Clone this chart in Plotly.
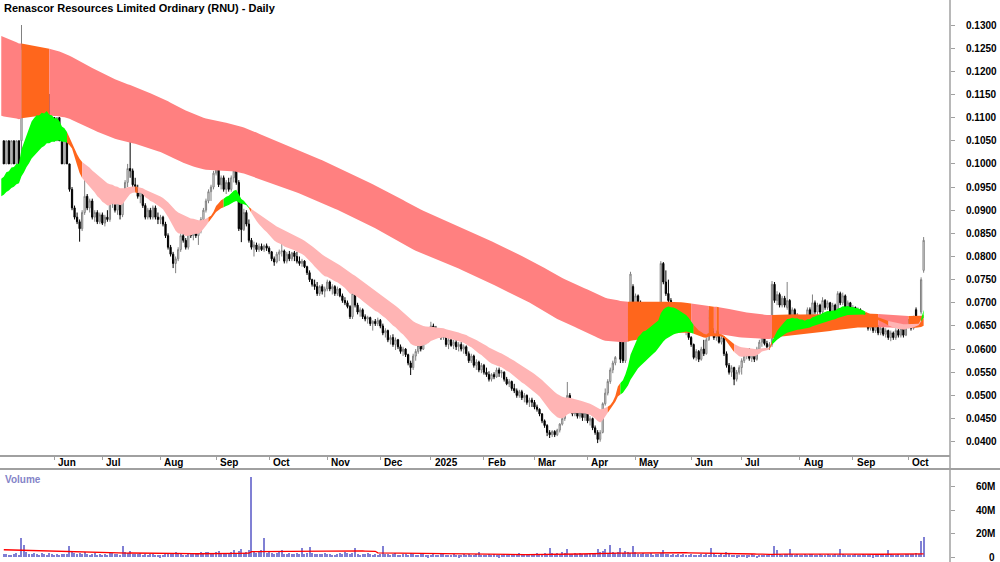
import numpy as np
import pandas as pd
import plotly.graph_objects as go

TITLE = "Renascor Resources Limited Ordinary (RNU) - Daily"
START_DATE = "2024-05-06"
HOLIDAYS = ["2024-06-10", "2024-12-25", "2024-12-26", "2025-01-01", "2025-01-27",
            "2025-04-18", "2025-04-21", "2025-04-25", "2025-06-09"]

# prices in units of 0.0001 (one bar per trading day)
OPEN = [
    1050,1000,1050,1000,1050,1000,1050,1050,1250,1150,1200,1150,1200,1150,1150,1100,1150,1100,1150,1050,
    1100,1050,1100,1050,1000,1050,1000,945,905,885,875,860,895,930,905,920,885,895,875,
    890,872,885,880,915,935,900,925,890,930,960,990,985,955,945,930,940,910,885,900,885,905,885,
    880,885,870,845,820,805,785,795,815,845,835,820,855,845,870,845,855,880,900,920,940,950,
    980,995,955,970,945,960,945,970,985,960,915,858,895,870,835,820,825,815,822,815,823,
    818,810,795,788,805,810,812,790,805,795,808,800,790,785,790,778,765,750,740,735,720,735,725,
    730,745,730,735,720,730,715,705,700,692,670,720,695,680,685,670,665,668,655,660,655,
    662,650,635,640,620,625,610,620,605,595,600,588,570,560,585,595,608,600,620,628,
    630,650,640,632,640,625,635,610,620,608,615,605,610,600,605,590,575,585,565,572,555,
    565,550,545,535,545,540,555,548,550,535,525,530,515,510,500,508,495,500,485,490,
    485,475,470,460,445,435,420,415,422,415,425,438,450,470,500,478,460,472,455,468,452,
    462,445,450,430,420,405,420,482,505,530,555,570,640,665,630,575,640,690,735,
    695,715,700,668,685,652,675,692,670,688,695,785,745,720,705,680,688,672,660,665,645,650,
    625,610,582,595,578,600,590,620,668,638,625,635,615,625,590,565,550,560,535,550,
    560,575,585,595,580,590,578,600,615,628,612,605,610,740,705,718,695,710,690,705,668,685,655,
    670,645,662,645,685,665,700,680,695,680,705,690,700,680,695,682,720,700,715,690,700,
    675,690,675,685,665,675,655,645,655,640,650,635,645,632,640,625,635,625,640,630,645,630,
    650,660,645,685,662,680,770,
]
HIGH = [
    1050,1050,1050,1050,1050,1050,1050,1300,1250,1250,1200,1200,1200,1200,1150,1150,1150,1150,1150,1100,
    1100,1100,1100,1050,1050,1050,1000,950,910,895,880,900,970,935,925,925,900,900,895,
    895,890,900,920,940,940,930,930,935,965,1000,1050,990,970,955,945,945,915,905,905,910,910,895,
    890,888,875,850,825,810,800,820,850,860,840,860,875,880,875,860,885,905,925,945,955,985,
    1050,1000,975,975,965,970,975,1050,990,965,915,903,900,880,840,832,830,828,828,826,828,
    822,812,800,810,815,846,815,810,812,810,812,810,800,795,792,780,770,752,750,745,738,740,735,
    750,748,740,738,735,732,720,712,705,695,757,725,700,690,688,675,672,670,662,665,668,
    665,655,645,642,630,632,625,622,610,605,602,590,575,590,600,612,615,625,632,635,
    659,655,650,645,642,640,638,625,625,620,620,615,615,610,608,595,590,588,578,575,570,
    568,560,552,548,550,560,560,555,552,540,535,532,525,515,512,512,505,502,495,495,
    490,480,472,462,448,438,425,425,425,428,440,455,475,529,505,485,478,475,472,470,468,
    465,455,452,435,425,425,485,515,535,560,575,585,670,668,635,640,690,767,740,
    720,718,705,690,688,680,698,695,690,700,790,788,770,750,710,692,690,680,670,668,658,655,
    628,612,600,598,605,620,625,685,680,645,640,638,630,628,595,570,565,562,555,565,
    580,590,600,602,598,600,605,620,632,635,618,615,747,745,725,722,715,715,745,708,690,688,678,
    672,668,665,690,690,718,705,700,698,712,708,705,702,700,698,725,724,722,718,705,702,
    695,692,690,688,680,678,665,660,658,655,652,648,650,645,642,640,638,645,645,650,648,655,
    665,662,672,690,670,755,842,
]
LOW = [
    1000,1000,1000,1000,1000,1000,1000,1000,1150,1150,1150,1150,1150,1100,1100,1100,1100,1100,1050,1050,
    1050,1050,1050,1000,1000,1000,940,900,880,870,832,855,890,900,895,880,875,870,870,
    868,865,875,875,905,895,890,880,885,925,950,970,950,940,925,915,905,880,880,880,880,880,870,
    870,865,840,815,800,775,764,790,810,830,815,815,840,835,840,825,850,875,895,915,920,945,
    975,950,945,940,935,940,940,960,955,855,831,855,865,830,815,800,810,810,812,810,812,
    805,790,780,785,790,800,785,785,790,790,790,785,780,778,775,760,745,735,728,715,715,718,712,
    725,725,718,715,715,712,700,695,688,665,665,690,675,670,665,660,655,650,640,650,650,
    645,630,625,615,610,605,598,600,590,585,583,565,544,555,575,590,595,598,610,615,
    625,630,628,625,620,620,605,600,605,600,598,595,595,590,585,570,570,560,555,550,548,
    545,540,530,530,535,538,540,538,530,522,518,510,505,495,495,490,485,480,475,475,
    470,465,455,440,430,412,408,410,410,412,420,435,445,465,472,455,455,450,450,445,445,
    440,435,425,415,397,400,418,478,500,525,548,565,635,570,570,570,635,688,690,
    688,690,662,660,648,648,668,665,665,680,690,740,715,700,675,670,668,655,650,640,630,620,
    605,578,575,572,575,585,588,618,630,620,618,612,610,585,560,545,540,522,530,545,
    545,570,578,575,572,572,575,595,605,608,598,598,605,700,695,690,690,690,685,665,660,650,640,
    640,640,640,640,660,660,675,672,675,675,685,685,675,675,678,680,695,695,685,680,670,
    670,670,665,660,660,650,640,640,635,635,630,630,628,625,620,617,620,620,625,625,625,628,
    645,640,642,655,655,675,765,
]
CLOSE = [
    1000,1050,1000,1050,1000,1050,1000,1250,1150,1200,1150,1200,1150,1150,1100,1150,1100,1150,1050,1100,
    1050,1100,1050,1000,1050,1000,945,905,885,875,860,895,930,905,920,885,895,875,890,
    872,885,880,915,935,900,925,890,930,960,990,985,955,945,930,940,910,885,900,885,905,885,880,
    885,870,845,820,805,785,795,815,845,835,820,855,845,870,845,855,880,900,920,940,950,980,
    995,955,970,945,960,945,970,985,960,860,858,895,870,835,820,825,815,822,815,823,818,
    810,795,788,805,810,812,790,805,795,808,800,790,785,790,778,765,750,740,735,720,735,725,730,
    745,730,735,720,730,715,705,700,692,670,720,695,680,685,670,665,668,655,660,655,662,
    650,635,640,620,625,610,620,605,595,600,588,570,560,585,595,608,600,620,628,630,
    650,640,632,640,625,635,610,620,608,615,605,610,600,605,590,575,585,565,572,555,565,
    550,545,535,545,540,555,548,550,535,525,530,515,510,500,508,495,500,485,490,485,
    475,470,460,445,435,420,415,422,415,425,438,450,470,500,478,460,472,455,468,452,462,
    445,450,430,420,405,420,482,505,530,555,570,582,665,578,575,635,685,762,695,
    715,700,668,685,652,675,692,670,688,695,785,745,720,705,680,688,672,660,665,645,650,625,
    610,582,595,578,600,590,620,668,638,625,635,615,625,590,565,550,560,535,550,560,
    575,585,595,580,590,578,600,615,628,612,605,610,740,705,718,695,710,695,705,668,685,655,670,
    645,662,645,685,665,700,680,695,680,705,690,700,680,695,682,720,700,715,690,700,675,
    690,675,685,665,675,655,645,655,640,650,635,645,632,640,625,635,625,640,630,645,630,650,
    660,645,668,660,665,750,835,
]
# volume in millions of shares
VOLUME_M = [
    2.5,3.1,2.2,1.8,2.9,3.4,2.0,16.7,10.5,4.2,3.0,2.4,3.6,2.8,2.1,3.3,2.6,1.9,3.8,2.7,
    2.2,3.0,1.8,2.6,3.2,2.4,9.6,4.1,3.5,2.8,3.9,2.5,4.4,3.1,2.2,2.9,3.4,2.0,2.6,
    1.8,2.7,2.3,3.5,4.0,2.6,3.1,2.2,9.6,4.6,3.8,5.2,3.0,2.4,2.8,3.3,2.1,2.6,1.9,2.4,3.0,2.2,1.7,
    1.6,2.1,2.8,3.2,2.5,3.9,4.3,3.5,2.7,2.2,1.8,2.6,3.1,2.4,2.9,3.4,4.6,3.8,4.9,4.1,3.3,3.6,
    4.8,5.5,3.9,3.1,2.7,3.5,4.2,6.0,3.6,5.4,7.1,3.8,4.5,6.2,68.0,4.4,3.9,5.1,6.3,16.2,3.4,
    4.1,3.6,2.9,3.3,5.0,6.2,3.1,2.7,3.5,2.4,2.9,3.8,3.0,7.7,2.6,3.4,8.5,4.0,3.2,2.5,3.1,2.8,3.6,
    2.4,3.0,2.2,1.9,2.8,3.4,2.5,4.1,3.3,2.6,3.5,7.7,2.9,2.2,3.0,2.7,3.6,2.4,2.0,2.9,2.3,
    2.6,9.6,3.1,2.4,2.0,2.8,3.3,2.2,1.9,2.5,3.0,2.1,3.7,2.6,2.3,1.8,2.4,2.9,2.0,1.6,
    1.9,2.6,2.2,1.8,2.4,2.9,2.1,1.7,2.3,2.8,2.0,1.6,2.2,2.5,1.9,2.7,2.1,1.8,2.4,4.3,2.0,
    1.7,2.2,2.5,1.9,2.8,2.3,1.6,2.0,2.6,2.2,1.8,2.4,2.9,2.1,3.3,2.5,1.9,2.7,2.2,3.0,
    2.6,3.4,2.8,3.1,3.9,2.5,7.7,3.6,2.9,3.3,2.7,4.2,3.5,6.8,3.0,2.6,3.8,2.9,3.4,2.4,3.1,
    2.8,3.5,3.0,3.9,7.2,4.4,5.1,7.0,3.8,10.5,4.6,3.6,4.2,7.7,3.5,5.3,4.1,3.3,9.6,
    4.5,3.2,2.8,3.6,2.4,2.9,3.3,2.1,2.6,3.0,3.8,6.0,3.1,2.5,2.2,2.8,1.9,2.4,2.0,2.6,1.8,2.3,
    2.5,2.0,1.7,2.2,2.8,1.9,2.4,2.1,7.7,3.0,2.3,1.8,2.6,2.0,4.8,2.4,1.9,2.2,1.6,2.1,
    1.8,2.3,1.6,2.0,2.5,1.9,1.5,2.2,1.7,2.1,1.8,2.4,2.0,9.6,6.3,2.7,2.2,3.1,2.4,7.0,2.8,2.0,2.5,
    2.3,1.9,2.6,2.1,2.8,2.4,1.8,2.2,2.7,2.0,1.7,2.5,2.1,1.9,2.6,2.2,7.0,2.4,1.8,2.3,2.0,
    1.9,2.4,1.7,2.2,2.6,2.0,1.8,2.3,1.6,2.1,2.5,1.9,2.2,1.7,6.3,2.4,2.0,1.8,2.6,2.2,1.9,2.8,
    2.4,3.1,2.6,3.5,2.9,13.6,17.0,
]

PRICE_TICKS = [0.0400, 0.0450, 0.0500, 0.0550, 0.0600, 0.0650, 0.0700, 0.0750, 0.0800, 0.0850,
               0.0900, 0.0950, 0.1000, 0.1050, 0.1100, 0.1150, 0.1200, 0.1250, 0.1300]
VOLUME_TICKS_M = [0, 20, 40, 60]
VOLUME_TICK_TEXT = ["0", "20M", "40M", "60M"]

# moving-average ribbons (EMA periods) and their values just before the first bar
SHORT_PERIODS = [15, 19, 23, 27, 32, 38]
SHORT_SEEDS = [0.0968, 0.0961, 0.0953, 0.0946, 0.0938, 0.0930]
LONG_PERIODS = [150, 220]
LONG_SEEDS = [0.1104, 0.1276]
FAST_PERIOD = 3
VOL_MA_PERIOD = 50
VOL_MA_SEED_M = 6.5

FONT = "Liberation Sans, Arial, sans-serif"
C_LONG = "#ff8080"
C_SHORT = "#ffb4b4"
C_OVER = "#ff661c"
C_UP = "#00ff00"
GREY = "#a0a0a0"

o = np.array(OPEN) / 10000.0
h = np.array(HIGH) / 10000.0
l = np.array(LOW) / 10000.0
c = np.array(CLOSE) / 10000.0
vol = np.array(VOLUME_M) * 1e6
N = len(c)
idx = np.arange(N)
dates = pd.bdate_range(start=START_DATE, periods=N, freq="C", holidays=HOLIDAYS)


def ema_path(values, n, seed):
    a = 2.0 / (n + 1)
    out = [seed]
    for v in values:
        out.append(out[-1] + a * (v - out[-1]))
    return np.array(out)  # positions -1 .. N-1


bx = np.arange(-1, N)
short = np.array([ema_path(c, n, s) for n, s in zip(SHORT_PERIODS, SHORT_SEEDS)])
long_ = np.array([ema_path(c, n, s) for n, s in zip(LONG_PERIODS, LONG_SEEDS)])
fast = ema_path(c, FAST_PERIOD, c[0])

s_up, s_lo = short.max(axis=0), short.min(axis=0)
l_up, l_lo = long_.max(axis=0), long_.min(axis=0)

d = np.diff(short, axis=0)
short_col = np.where((d < 0).all(axis=0), C_UP, np.where((d > 0).all(axis=0), C_SHORT, C_OVER))
long_col = np.where(fast >= l_lo, C_OVER, C_LONG)


def band_traces(upper, lower, cols):
    tr = []
    M = len(cols)
    start = 0
    for k in range(1, M + 1):
        if k == M or cols[k] != cols[start]:
            end = min(k, M - 1)
            xs = list(bx[start:end + 1]) + list(bx[start:end + 1][::-1])
            ys = list(upper[start:end + 1]) + list(lower[start:end + 1][::-1])
            tr.append(go.Scatter(x=xs, y=ys, fill="toself", fillcolor=cols[start], mode="lines",
                                 line=dict(width=0, color=cols[start]), hoverinfo="skip",
                                 showlegend=False, xaxis="x", yaxis="y"))
            start = k
    return tr


fig = go.Figure()
for t in band_traces(l_up, l_lo, long_col):
    fig.add_trace(t)
for t in band_traces(s_up, s_lo, short_col):
    fig.add_trace(t)

fig.add_trace(go.Candlestick(
    x=idx, open=o, high=h, low=l, close=c,
    increasing=dict(line=dict(color="#808080", width=1), fillcolor="#ffffff"),
    decreasing=dict(line=dict(color="#000000", width=1), fillcolor="#000000"),
    whiskerwidth=0, hoverinfo="skip", showlegend=False, xaxis="x", yaxis="y"))

# volume
padded = np.concatenate([np.full(VOL_MA_PERIOD - 1, VOL_MA_SEED_M * 1e6), vol])
vol_ma = pd.Series(padded).rolling(VOL_MA_PERIOD).mean().to_numpy()[VOL_MA_PERIOD - 1:]
fig.add_trace(go.Bar(x=idx, y=vol, width=0.45, marker=dict(color="#8080d4", line=dict(width=0)),
                     hoverinfo="skip", showlegend=False, xaxis="x", yaxis="y2"))
fig.add_trace(go.Scatter(x=idx, y=vol_ma, mode="lines", line=dict(color="#ff0000", width=1.3),
                         hoverinfo="skip", showlegend=False, xaxis="x", yaxis="y2"))

month_idx = [i for i in range(1, N) if dates[i].month != dates[i - 1].month]
month_lbl = [("%d" % dates[i].year) if dates[i].month == 1 else dates[i].strftime("%b") for i in month_idx]

W, H = 1000, 562
PLOT_R = 950
px_per_bar = 2.527
x0 = -3.8 / px_per_bar
x1 = x0 + PLOT_R / px_per_bar
price_bottom_px, vol_top_px = 455, 470
p_per_px = 0.005 / 23.15
y_top = 0.1300 + 25 * p_per_px
y_bot = 0.1300 - (price_bottom_px - 25) * p_per_px
v_per_px = 20e6 / 23.5
v_top = (557.3 - vol_top_px) * v_per_px
v_bot = (557.3 - H) * v_per_px

tickfont = dict(family=FONT, size=10, color="#000000", weight="bold")
annotations = [
    dict(text=TITLE, x=2 / PLOT_R, y=1 - 8.5 / H, xref="paper", yref="paper", xanchor="left",
         yanchor="middle", showarrow=False, font=dict(family=FONT, size=11, color="#000000", weight="bold")),
    dict(text="Volume", x=3 / PLOT_R, y=1 - 479 / H, xref="paper", yref="paper", xanchor="left",
         yanchor="middle", showarrow=False, font=dict(family=FONT, size=10, color="#8484c8", weight="bold")),
]
for i, lab in zip(month_idx, month_lbl):
    annotations.append(dict(text=lab, x=i + 0.7, y=1 - 462.5 / H, xref="x", yref="paper",
                            xanchor="left", yanchor="middle", showarrow=False, font=tickfont))
for v, lab in zip(VOLUME_TICKS_M, VOLUME_TICK_TEXT):
    annotations.append(dict(text=lab, x=997 / PLOT_R, y=v * 1e6, xref="paper", yref="y2",
                            xanchor="right", yanchor="middle", showarrow=False, font=tickfont))

fig.update_layout(
    width=W, height=H, margin=dict(l=0, r=W - PLOT_R, t=0, b=0),
    paper_bgcolor="#ffffff", plot_bgcolor="#ffffff", showlegend=False,
    font=dict(family=FONT), hovermode=False, bargap=0,
    xaxis=dict(range=[x0, x1], showgrid=False, zeroline=False, showticklabels=False,
               tickmode="array", tickvals=month_idx, ticks="outside", ticklen=3,
               tickcolor=GREY, showline=True, linecolor=GREY, linewidth=2,
               anchor="y", rangeslider=dict(visible=False), fixedrange=True),
    yaxis=dict(domain=[1 - price_bottom_px / H, 1], range=[y_bot, y_top], side="right",
               showgrid=False, zeroline=False, tickmode="array", tickvals=PRICE_TICKS,
               ticktext=["%.4f" % v for v in PRICE_TICKS], ticks="outside", ticklen=4,
               tickcolor=GREY, tickfont=tickfont, ticklabelstandoff=9, showline=False,
               fixedrange=True),
    yaxis2=dict(domain=[0, 1 - vol_top_px / H], range=[v_bot, v_top], side="right",
                showgrid=False, zeroline=False, tickmode="array",
                tickvals=[v * 1e6 for v in VOLUME_TICKS_M], showticklabels=False,
                ticks="outside", ticklen=4, tickcolor=GREY, showline=False, anchor="x",
                fixedrange=True),
    shapes=[
        dict(type="line", xref="paper", yref="paper", x0=1, x1=1, y0=0, y1=1,
             line=dict(color=GREY, width=1.5)),
        dict(type="line", xref="paper", yref="paper", x0=0, x1=W / PLOT_R, y0=1 - 469 / H,
             y1=1 - 469 / H, line=dict(color=GREY, width=2)),
    ],
    annotations=annotations,
)

fig.write_html("out.html")
